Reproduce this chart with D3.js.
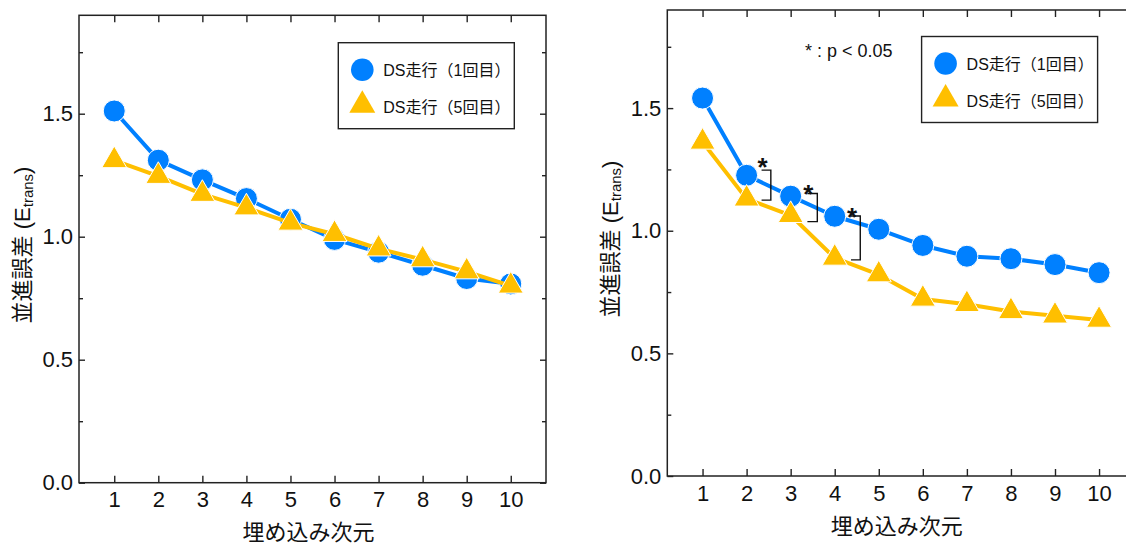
<!DOCTYPE html>
<html>
<head>
<meta charset="utf-8">
<script src="https://cdn.jsdelivr.net/npm/d3@7"></script>
<style>
html, body { margin: 0; padding: 0; background: #fff; }
svg { display: block; font-family: "Liberation Sans", Arial, "Noto Sans CJK JP", sans-serif; }
</style>
</head>
<body>
<svg id="chart" width="1126" height="545"></svg>
<script>
// data
const dims = [1, 2, 3, 4, 5, 6, 7, 8, 9, 10];
const leftRun1 = [1.511, 1.311, 1.231, 1.155, 1.071, 0.989, 0.937, 0.884, 0.830, 0.808];
const leftRun5 = [1.310, 1.246, 1.173, 1.118, 1.056, 1.010, 0.951, 0.907, 0.858, 0.800];
const rightRun1 = [1.541, 1.226, 1.141, 1.059, 1.006, 0.940, 0.896, 0.886, 0.862, 0.829];
const rightRun5 = [1.362, 1.130, 1.063, 0.889, 0.821, 0.722, 0.700, 0.671, 0.653, 0.636];
const yTicks = [0, 0.5, 1.0, 1.5];
const yMinorTicks = [0.25, 0.75, 1.25, 1.75];
const seriesNames = ["DS走行（1回目）", "DS走行（5回目）"];
const xTitle = "埋め込み次元";
const pNote = "* : p < 0.05";
// significance brackets (data units): arm start, bracket x, top y, bottom y
const sigBrackets = [
    { x0: 2.34, x1: 2.55, top: 1.247, bottom: 1.125, star: 1.285 },
    { x0: 3.38, x1: 3.605, top: 1.152, bottom: 1.037, star: 1.175 },
    { x0: 4.37, x1: 4.58, top: 1.060, bottom: 0.881, star: 1.082 }
];

const blue = "#0080ff";
const yellow = "#ffbf00";
const ink = "#222";

const svg = d3.select("#chart");

function drawPanel(p) {
    const x = d3.scaleLinear().domain([0.2, 10.8]).range([p.left, p.left + p.w]);
    const y = d3.scaleLinear().domain([0, 1.9]).range([p.top + p.h, p.top]);
    const g = svg.append("g");

    const clean = sel => {
        sel.select(".domain").remove();
        sel.attr("color", ink).selectAll("line").attr("stroke-width", 1.4);
    };

    // bottom axis with labels
    g.append("g")
        .attr("transform", `translate(0,${p.top + p.h})`)
        .call(d3.axisBottom(x).tickValues(dims).tickSize(-7).tickPadding(9))
        .call(clean)
        .attr("font-size", 22)
        .attr("font-family", null);

    // top mirror
    g.append("g")
        .attr("transform", `translate(0,${p.top})`)
        .call(d3.axisTop(x).tickValues(dims).tickSize(-7).tickFormat(""))
        .call(clean);

    // left axis with labels
    g.append("g")
        .attr("transform", `translate(${p.left},0)`)
        .call(d3.axisLeft(y).tickValues(yTicks).tickSize(-6).tickPadding(6).tickFormat(d3.format(".1f")))
        .call(clean)
        .attr("font-size", 22)
        .attr("font-family", null);
    g.append("g")
        .attr("transform", `translate(${p.left},0)`)
        .call(d3.axisLeft(y).tickValues(yMinorTicks).tickSize(-4).tickFormat(""))
        .call(clean);

    // right mirror
    g.append("g")
        .attr("transform", `translate(${p.left + p.w},0)`)
        .call(d3.axisRight(y).tickValues(yTicks).tickSize(-6).tickFormat(""))
        .call(clean);
    g.append("g")
        .attr("transform", `translate(${p.left + p.w},0)`)
        .call(d3.axisRight(y).tickValues(yMinorTicks).tickSize(-4).tickFormat(""))
        .call(clean);

    g.selectAll("text").attr("fill", "#111");

    // frame
    g.append("rect")
        .attr("x", p.left).attr("y", p.top)
        .attr("width", p.w).attr("height", p.h)
        .attr("fill", "none").attr("stroke", ink).attr("stroke-width", 1.5);

    // axis titles
    g.append("text")
        .attr("x", p.left + p.w / 2 - 4)
        .attr("y", p.top + p.h + 50)
        .attr("text-anchor", "middle")
        .attr("dominant-baseline", "central")
        .attr("font-size", 22)
        .attr("fill", "#111")
        .text(xTitle);

    const yt = g.append("text")
        .attr("transform", `translate(${p.left - 57.5},${p.top + p.h / 2 - 4}) rotate(-90)`)
        .attr("text-anchor", "middle")
        .attr("dominant-baseline", "central")
        .attr("font-size", 22)
        .attr("fill", "#111");
    yt.append("tspan").text("並進誤差 (E");
    yt.append("tspan").attr("font-size", 15).attr("dy", 5).text("trans");
    yt.append("tspan").attr("dy", -5).text(")");

    // series
    const line = d3.line().x((d, i) => x(dims[i])).y(d => y(d));
    const tri = d3.symbol().type(d3.symbolTriangle).size(270);

    g.append("path").datum(p.run1)
        .attr("d", line).attr("fill", "none")
        .attr("stroke", blue).attr("stroke-width", 4).attr("stroke-linejoin", "round");
    g.selectAll(".c").data(p.run1).enter().append("circle")
        .attr("cx", (d, i) => x(dims[i])).attr("cy", d => y(d))
        .attr("r", 11).attr("fill", blue).attr("stroke", "#fff").attr("stroke-width", 1);

    g.append("path").datum(p.run5)
        .attr("d", line).attr("fill", "none")
        .attr("stroke", yellow).attr("stroke-width", 4).attr("stroke-linejoin", "round");
    g.selectAll(".t").data(p.run5).enter().append("path")
        .attr("d", tri)
        .attr("transform", (d, i) => `translate(${x(dims[i])},${y(d)})`)
        .attr("fill", yellow).attr("stroke", "#fff").attr("stroke-width", 1);

    // legend
    const lg = g.append("g").attr("transform", `translate(${p.left + p.legX},${p.top + p.legY})`);
    lg.append("rect").attr("width", 176).attr("height", 86)
        .attr("fill", "#fff").attr("stroke", ink).attr("stroke-width", 1.4);
    lg.append("circle").attr("cx", 24).attr("cy", 27).attr("r", 11.3).attr("fill", blue);
    lg.append("path").attr("d", d3.symbol().type(d3.symbolTriangle).size(292)())
        .attr("transform", "translate(24,62.5)").attr("fill", yellow);
    lg.selectAll(".lt").data(seriesNames).enter().append("text")
        .attr("x", 45).attr("y", (d, i) => 33.5 + i * 36.7)
        .attr("font-size", 16).attr("fill", "#111")
        .text(d => d);

    // significance marks
    if (p.sig) {
        g.append("text")
            .attr("x", p.left + 137.7).attr("y", p.top + 47.3)
            .attr("font-size", 18).attr("fill", "#111")
            .text(pNote);
        p.sig.forEach(b => {
            g.append("path")
                .attr("d", `M${x(b.x0)},${y(b.top)}H${x(b.x1)}V${y(b.bottom)}H${x(b.x0)}`)
                .attr("fill", "none").attr("stroke", "#111").attr("stroke-width", 1.4);
            g.append("text")
                .attr("x", x(b.x0) + 1).attr("y", y(b.star) + 15)
                .attr("text-anchor", "middle")
                .attr("font-size", 26).attr("font-weight", "bold").attr("fill", "#111")
                .text("*");
        });
    }
}

drawPanel({ left: 79, top: 15.3, w: 467, h: 467.4, run1: leftRun1, run5: leftRun5, legX: 259.3, legY: 27.4 });
drawPanel({ left: 667.3, top: 10, w: 467, h: 466, run1: rightRun1, run5: rightRun5, legX: 254.3, legY: 26.5, sig: sigBrackets });
</script>
</body>
</html>
